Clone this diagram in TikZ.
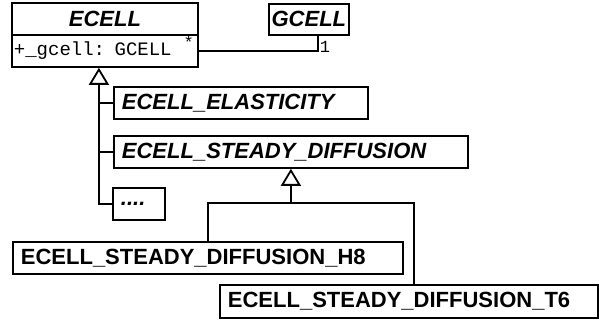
\documentclass[tikz,border=0pt]{standalone}
\usepackage{fontspec}
\newfontfamily\helv{Liberation Sans}
\newfontfamily\cour{Liberation Mono}
\usetikzlibrary{arrows.meta}
\tikzset{
  cls/.style={draw, line width=1.8pt, anchor=north west, inner xsep=8pt, inner ysep=0pt,
    minimum height=32pt, align=left, font=\helv\bfseries\fontsize{22}{25}\selectfont},
  abscls/.style={cls, font=\helv\bfseries\itshape\fontsize{22}{25}\selectfont},
  attr/.style={cls, inner xsep=2pt, font=\cour\fontsize{19}{21}\selectfont},
  mult/.style={inner sep=1pt, font=\cour\fontsize{17}{18}\selectfont},
  link/.style={line width=1.8pt},
  inherit/.style={line width=1.8pt, -{Triangle[open, length=17pt, width=20pt, fill=white]}}
}
\begin{document}
\begin{tikzpicture}[x=1pt, y=-1pt]
\useasboundingbox (0,0) rectangle (599,320);
\node[abscls, inner xsep=0pt, align=center, text width=186pt] (ecell) at (11,2) {ECELL};
\node[attr, text width=182pt] (ecellattr) at (11,34) {+\_gcell: GCELL};
\node[abscls, inner xsep=0pt, align=center, text width=80pt, minimum height=31pt] (gcell) at (268,3) {GCELL};
\node[abscls, text width=238pt] (elast) at (113,86) {ECELL\_ELASTICITY};
\node[abscls, text width=338pt] (esd) at (113,135) {ECELL\_STEADY\_DIFFUSION};
\node[abscls, text width=36pt] (dots) at (112,187) {....};
\node[cls, text width=374pt] (h8) at (12,241) {ECELL\_STEADY\_DIFFUSION\_H8};
\node[cls, text width=362pt, minimum height=33pt] (t6) at (219,284) {ECELL\_STEADY\_DIFFUSION\_T6};
% association
\draw[link] (ecellattr.east) -| ([xshift=9pt]gcell.south)
  node[mult, pos=0, anchor=south east, xshift=-3pt, yshift=0pt] {*}
  node[mult, pos=0.5, anchor=base west, yshift=-2pt] {1};
% generalization to ECELL
\coordinate (hub) at ([xshift=-6pt]ecellattr.south);
\draw[inherit] (dots.west) -| (hub);
\draw[link] (elast.west) -- (elast.west -| hub);
\draw[link] (esd.west) -- (esd.west -| hub);
% generalization to ECELL_STEADY_DIFFUSION
\coordinate (fork) at (esd.south |- 0,203);
\draw[link] (h8.north) |- (fork) -| ([xshift=5pt]t6.north);
\draw[inherit] (fork) -- (esd.south);
\end{tikzpicture}
\end{document}
